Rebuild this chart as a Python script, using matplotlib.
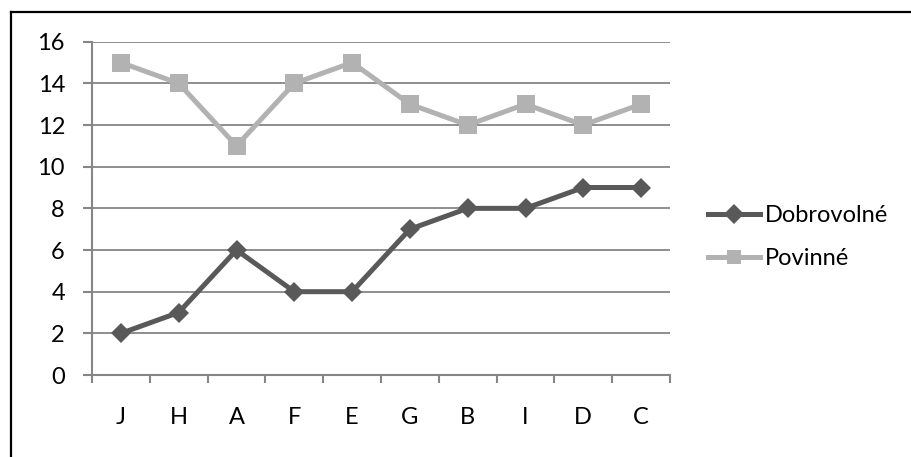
import matplotlib
matplotlib.use("Agg")
import matplotlib.pyplot as plt
from matplotlib.lines import Line2D

categories = ["J", "H", "A", "F", "E", "G", "B", "I", "D", "C"]
dobrovolne = [2, 3, 6, 4, 4, 7, 8, 8, 9, 9]
povinne = [15, 14, 11, 14, 15, 13, 12, 13, 12, 13]
series_names = ["Dobrovolné", "Povinné"]
y_ticks = [0, 2, 4, 6, 8, 10, 12, 14, 16]

plt.rcParams['font.family'] = ['Lato', 'DejaVu Sans']
FS = 17
W, H = 911, 457
fig = plt.figure(figsize=(W / 100, H / 100), dpi=100)
ax = fig.add_axes([92 / W, 1 - 375 / H, (670 - 92) / W, (375 - 41.7) / H])

grid_c = "#868686"
dark_c = "#595959"
light_c = "#b2b2b2"

x = list(range(len(categories)))
ax.plot(x, dobrovolne, color=dark_c, lw=3.6, marker="D", ms=10,
        markeredgewidth=0, solid_joinstyle="miter", zorder=4)
ax.plot(x, povinne, color=light_c, lw=3.6, marker="s", ms=13.5,
        markeredgewidth=0, solid_joinstyle="miter", zorder=3)

ax.set_xlim(-0.5, len(categories) - 0.5)
ax.set_ylim(0, 16)
ax.set_yticks(y_ticks)
ax.set_yticklabels([str(v) for v in y_ticks], fontsize=FS)
ax.set_xticks(x)
ax.set_xticklabels(categories, fontsize=FS)
ax.set_xticks([i - 0.5 for i in range(len(categories) + 1)], minor=True)

ax.yaxis.grid(True, color=grid_c, lw=1.3)
ax.set_axisbelow(True)
for s in ["top", "right"]:
    ax.spines[s].set_visible(False)
for s in ["left", "bottom"]:
    ax.spines[s].set_color(grid_c)
    ax.spines[s].set_linewidth(1.5)

ax.tick_params(axis="y", length=6.5, width=1.5, color=grid_c, pad=13, labelcolor="black")
ax.tick_params(axis="x", which="major", length=0, pad=23, labelcolor="black")
ax.tick_params(axis="x", which="minor", length=6, width=1.5, color=grid_c)

handles = [
    Line2D([], [], color=dark_c, lw=3.6, marker="D", ms=10, markeredgewidth=0),
    Line2D([], [], color=light_c, lw=3.6, marker="s", ms=10, markeredgewidth=0),
]
fig.legend(handles, series_names, loc="center left",
           bbox_to_anchor=(708 / W, 1 - 237 / H), frameon=False,
           fontsize=FS, handlelength=2.2, handletextpad=0.2,
           labelspacing=0.95, borderpad=0, borderaxespad=0)

# outer frame (top and left edges)
fig.add_artist(Line2D([11 / W, 1.0], [1 - 12 / H, 1 - 12 / H],
                      transform=fig.transFigure, color="black", lw=1.6))
fig.add_artist(Line2D([11 / W, 11 / W], [0, 1 - 12 / H],
                      transform=fig.transFigure, color="black", lw=1.6))

fig.savefig("out.png", dpi=100)
